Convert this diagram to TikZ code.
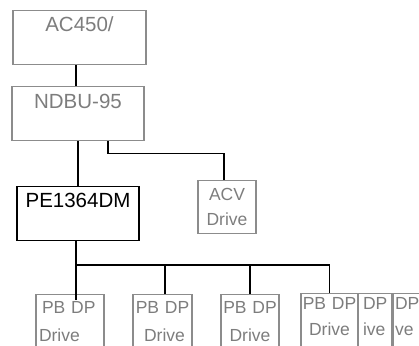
\documentclass[tikz,border=0pt]{standalone}
\usepackage{fontspec}
\setmainfont{Liberation Sans}
\usepackage{xcolor}
\usetikzlibrary{positioning}

\definecolor{boxgray}{RGB}{140,140,140}
\definecolor{textgray}{RGB}{125,125,125}

\begin{document}
\begin{tikzpicture}[
  x=1pt, y=-1pt,
  unit/.style={
    rectangle, draw=boxgray, line width=1.4pt, anchor=north,
    inner sep=0pt, align=center, text=textgray,
    font=\fontsize{20.5}{24}\selectfont,
  },
  master/.style={unit, draw=black, text=black},
  drive/.style={unit, font=\fontsize{17.5}{25}\selectfont},
  pbdrive/.style={drive, font=\fontsize{17.5}{28}\selectfont,
                  text height=19pt, text depth=40pt},
  pbback/.style={drive, font=\fontsize{17.5}{26}\selectfont,
                 text height=16pt, text depth=40pt, align=left},
  link/.style={draw=black, line width=1.6pt},
]
\useasboundingbox (0,0) rectangle (419,345);
\clip (0,0) rectangle (419,345);

\node[unit, text width=133pt, text height=21pt, text depth=33pt]   (ac)  at (79.5,10) {AC450/};
\node[unit, text width=132pt, text height=22pt, text depth=32pt]   (nd)  at (78,86)   {NDBU-95};
\node[master, text width=122pt, text height=21pt, text depth=33pt] (pe)  at (78,186)  {PE1364DM};
\node[drive, text width=58pt, text height=20pt, text depth=33pt]   (acv) at (227,180) {ACV\\Drive};

\node[pbdrive, text width=68pt, align=left] (pb1) at (70,294)  {\hspace*{6pt}PB DP\\\hspace*{3pt}Drive};
\node[pbdrive, text width=59pt]             (pb2) at (162.5,294) {PB DP\\\hspace*{4pt}Drive};
\node[pbdrive, text width=58pt]             (pb3) at (250,294) {PB DP\\Drive};
\node[pbback, text width=37pt]              (pb6) at (411.5,293) {\hspace*{2pt}DP\\\hspace*{2pt}ve};
\node[pbback, text width=34pt, fill=white]  (pb5) at (375,293) {\hspace*{5pt}DP\\\hspace*{5pt}ive};
\node[pbback, text width=57pt, align=center, fill=white] (pb4) at (329.5,293) {PB DP\\Drive};

\coordinate (bus) at (76,265);

\draw[link] ([xshift=-3.5pt]ac.south) -- ([xshift=-3.5pt]ac.south |- nd.north);
\draw[link] (nd.south) -- (pe.north);
\draw[link] ([xshift=30pt]nd.south) -- ++(0,12) -| ([xshift=-3pt]acv.north);

\draw[link] (pe.south -| bus) -- (bus) -- (bus -| pb4.north) -- (pb4.north);
\draw[link] (bus) -- ([yshift=-6pt]pb1.north -| bus);
\draw[link] ([xshift=2.5pt]pb2.north) -- ([xshift=2.5pt]pb2.north |- bus);
\draw[link] (pb3.north) -- (pb3.north |- bus);
\end{tikzpicture}
\end{document}
